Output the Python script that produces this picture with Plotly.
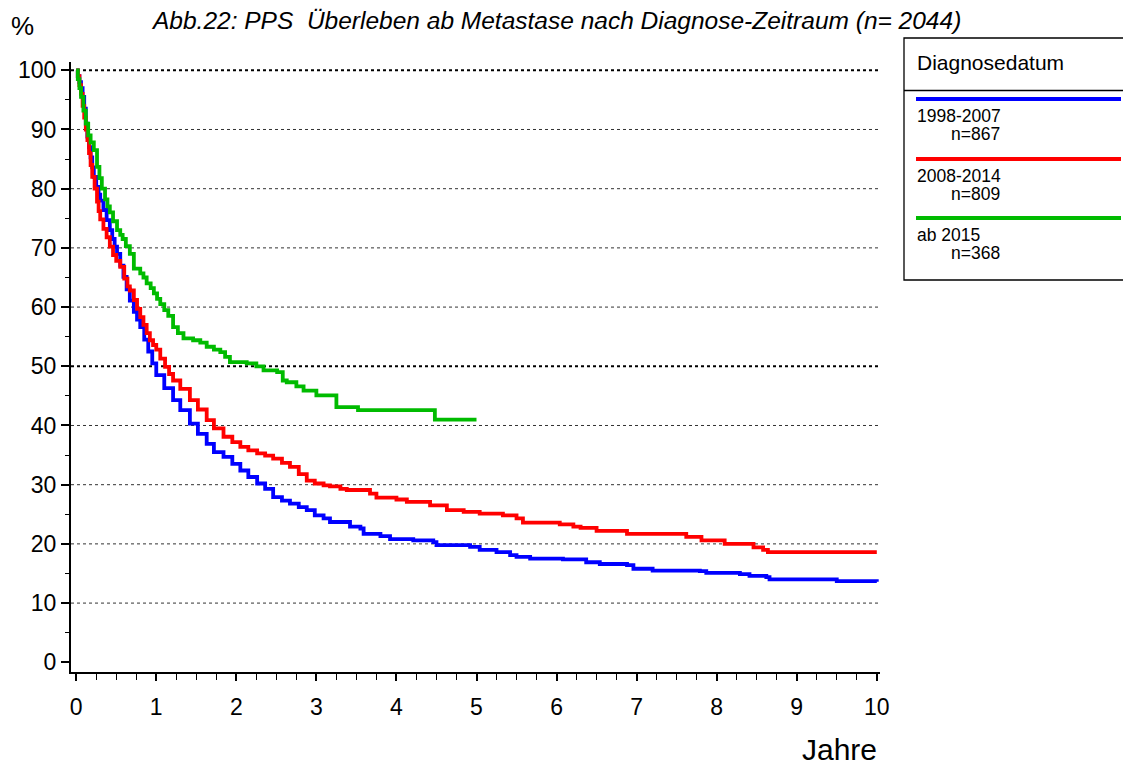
import plotly.graph_objects as go

# ---------------- data ----------------
series_names = ["1998-2007", "2008-2014", "ab 2015"]
series_n = ["n=867", "n=809", "n=368"]
series_colors = ["#0000ff", "#ff0000", "#00bb00"]

t_1998 = [0, 0.02, 0.04, 0.06, 0.08, 0.1, 0.12, 0.14, 0.16, 0.18, 0.2, 0.22, 0.25, 0.28,
          0.3, 0.34, 0.38, 0.42, 0.45, 0.48, 0.51, 0.55, 0.59, 0.63, 0.67, 0.72, 0.76,
          0.8, 0.85, 0.9, 0.95, 1.0,
          1.1, 1.21, 1.3, 1.42, 1.52, 1.63, 1.72, 1.84, 1.95, 2.05, 2.15, 2.26, 2.36,
          2.46, 2.57, 2.67, 2.78, 2.88, 2.98, 3.09, 3.17, 3.42, 3.55, 3.59, 3.8, 3.92,
          4.21, 4.46, 4.5, 4.92, 5.04, 5.25, 5.42, 5.5, 5.67, 6.08, 6.37, 6.54, 6.88,
          6.96, 7.2, 7.79, 7.87, 8.29, 8.41, 8.62, 8.66, 9.5, 10.0]
s_1998 = [100, 99, 98, 97, 95.5, 93.5, 91, 88.8, 87, 85.3, 83.6, 82, 80.3, 79,
          78, 76.4, 74.7, 73, 71.5, 70.2, 69, 67, 65.1, 63, 61.1, 59.2, 57.9,
          56.6, 54.5, 52.5, 50.5, 48.5,
          46.3, 44.3, 42.6, 40.3, 38.6, 36.9, 35.5, 34.7, 33.5, 32.4, 31.3, 30.2, 29.3,
          27.9, 27.3, 26.8, 26.2, 25.7, 24.8, 24.3, 23.7, 22.9, 22.6, 21.7, 21.3, 20.8,
          20.6, 20.3, 19.8, 19.5, 19.0, 18.6, 18.1, 17.8, 17.5, 17.4, 16.9, 16.6, 16.4,
          15.8, 15.5, 15.4, 15.1, 14.9, 14.6, 14.4, 14.0, 13.7, 13.6]

t_2008 = [0, 0.02, 0.04, 0.06, 0.08, 0.1, 0.12, 0.14, 0.16, 0.18, 0.2, 0.23, 0.26, 0.28,
          0.3, 0.34, 0.38, 0.42, 0.46, 0.5, 0.55, 0.6, 0.64, 0.67, 0.72, 0.76, 0.8, 0.84,
          0.88, 0.92, 0.96, 1.0, 1.05, 1.11, 1.16, 1.21,
          1.3, 1.42, 1.52, 1.63, 1.72, 1.84, 1.95, 2.05, 2.15, 2.26, 2.36, 2.46, 2.57,
          2.67, 2.78, 2.88, 2.98, 3.09, 3.17, 3.3, 3.38, 3.67, 3.75, 4.0, 4.13, 4.42,
          4.63, 4.84, 5.04, 5.33, 5.5, 5.58, 6.04, 6.21, 6.3, 6.5, 6.88, 7.62, 7.81,
          8.1, 8.46, 8.58, 8.64, 10.0]
s_2008 = [100, 99, 97.5, 96, 94, 92, 90, 88.2, 86, 84, 82, 80, 77.8, 76.2,
          74.8, 73.2, 71.8, 70.2, 68.8, 67.8, 66.8, 64.8, 63.5, 62.8, 61.2, 59.7, 58.3, 57,
          55.6, 54.4, 53.6, 52.8, 51.3, 49.9, 48.7, 47.6,
          46.2, 44.3, 42.7, 40.9, 39.5, 38.1, 37.2, 36.4, 35.8, 35.3, 34.9, 34.4, 33.7,
          33.0, 31.8, 30.7, 30.2, 29.9, 29.7, 29.3, 29.1, 28.5, 27.8, 27.5, 27.1, 26.5,
          25.7, 25.4, 25.1, 24.8, 24.3, 23.6, 23.3, 22.9, 22.7, 22.2, 21.7, 21.2, 20.6,
          20.0, 19.4, 19.0, 18.6, 18.6]

t_2015 = [0, 0.02, 0.04, 0.06, 0.09, 0.12, 0.15, 0.18, 0.22, 0.26, 0.29, 0.32, 0.36,
          0.39, 0.42, 0.46, 0.51, 0.55, 0.58, 0.62, 0.67, 0.72,
          0.8, 0.84, 0.88, 0.93, 0.97, 1.01, 1.05, 1.1, 1.15, 1.21, 1.27, 1.34, 1.46,
          1.55, 1.63, 1.72, 1.8, 1.86, 1.92,
          2.13, 2.25, 2.34, 2.51, 2.58, 2.63, 2.75, 2.84, 3.0, 3.25, 3.52, 4.48, 5.0]
s_2015 = [100, 98.5, 97, 95.5, 93.2, 91, 89, 87.8, 86.5, 83.7, 81.8, 80, 78.2,
          77, 76, 74.5, 73.0, 72.2, 71.5, 70.3, 69.0, 66.5,
          65.7, 65, 64, 63.2, 62.3, 61.4, 60.5, 59.5, 58.5, 56.6, 55.6, 54.7, 54.4,
          54.0, 53.3, 52.8, 52.4, 51.6, 50.7,
          50.5, 50.0, 49.3, 49.0, 47.6, 47.3, 46.6, 45.9, 45.1, 43.1, 42.6, 41.0, 41.0]

series_t = [t_1998, t_2008, t_2015]
series_s = [s_1998, s_2008, s_2015]

x_ticks = list(range(0, 11))
y_ticks = list(range(0, 101, 10))
grid_fine = [10, 20, 30, 40, 60, 70, 80, 90]
grid_bold = [50, 100]

title_text = "Abb.22: PPS  Überleben ab Metastase nach Diagnose-Zeitraum (n= 2044)"
legend_title = "Diagnosedatum"

# ---------------- layout geometry (page pixels, page body margin 8px) ----------------
OFF = 8
W, H = 1131 - OFF, 767 - OFF
L, R, T, B = 71, 880, 62, 672  # page pixel positions of plot area edges
FONT = "Liberation Sans, Arial, sans-serif"


def px(xp):
    return (xp - L) / (R - L)


def py(yp):
    return (B - yp) / (B - T)


fig = go.Figure()

for name, tt, ss, col in zip(series_names, series_t, series_s, series_colors):
    fig.add_trace(go.Scatter(x=tt, y=ss, mode="lines", name=name,
                             line=dict(color=col, width=3.8, shape="hv"),
                             showlegend=False))

shapes = []
for g in grid_fine:
    shapes.append(dict(type="line", xref="paper", yref="y", x0=0, x1=1, y0=g, y1=g,
                       line=dict(color="#333333", width=1, dash="dot"), layer="below"))
for g in grid_bold:
    shapes.append(dict(type="line", xref="paper", yref="y", x0=0, x1=1, y0=g, y1=g,
                       line=dict(color="#000000", width=2, dash="dot"), layer="below"))

# legend box
shapes.append(dict(type="rect", xref="paper", yref="paper", x0=px(904), x1=px(1140),
                   y0=py(280), y1=py(38), line=dict(color="black", width=1.3)))
shapes.append(dict(type="line", xref="paper", yref="paper", x0=px(904), x1=px(1140),
                   y0=py(90.5), y1=py(90.5), line=dict(color="black", width=1.3)))

annotations = []
annotations.append(dict(text=legend_title, xref="paper", yref="paper", x=px(915), y=py(62),
                        xanchor="left", yanchor="middle", showarrow=False,
                        font=dict(family=FONT, size=21, color="black")))
line_y = [99, 159, 218]
for i, (name, n, col) in enumerate(zip(series_names, series_n, series_colors)):
    ly = line_y[i]
    shapes.append(dict(type="line", xref="paper", yref="paper", x0=px(916), x1=px(1121),
                       y0=py(ly), y1=py(ly), line=dict(color=col, width=4)))
    annotations.append(dict(text=name, xref="paper", yref="paper", x=px(915), y=py(ly + 17),
                            xanchor="left", yanchor="middle", showarrow=False,
                            font=dict(family=FONT, size=17.5, color="black")))
    annotations.append(dict(text=n, xref="paper", yref="paper", x=px(949), y=py(ly + 35),
                            xanchor="left", yanchor="middle", showarrow=False,
                            font=dict(family=FONT, size=17.5, color="black")))

annotations.append(dict(text="<i>" + title_text + "</i>", xref="paper", yref="paper",
                        x=px(556), y=py(21), xanchor="center", yanchor="middle",
                        showarrow=False, font=dict(family=FONT, size=24.5, color="black")))
annotations.append(dict(text="%", xref="paper", yref="paper", x=px(9), y=py(26),
                        xanchor="left", yanchor="middle", showarrow=False,
                        font=dict(family=FONT, size=26, color="black")))
annotations.append(dict(text="Jahre", xref="paper", yref="paper", x=px(879), y=py(749),
                        xanchor="right", yanchor="middle", showarrow=False,
                        font=dict(family=FONT, size=30, color="black")))

fig.update_layout(
    template="none",
    width=W, height=H,
    margin=dict(l=L - OFF, r=(1131 - R), t=T - OFF, b=(767 - B), pad=0, autoexpand=False),
    plot_bgcolor="white", paper_bgcolor="white",
    shapes=shapes, annotations=annotations,
    showlegend=False,
    font=dict(family=FONT, color="black"),
)

fig.update_xaxes(
    automargin=False,
    range=[-0.065, 10.04], tickvals=x_ticks, ticktext=[str(v) for v in x_ticks],
    showgrid=False, zeroline=False, showline=True, linecolor="black", linewidth=2,
    ticks="outside", ticklen=7, tickwidth=1.5, tickcolor="black",
    minor=dict(dtick=0.25, tick0=0, ticks="outside", ticklen=6, tickwidth=1.2,
               tickcolor="black", showgrid=False),
    tickfont=dict(family=FONT, size=23, color="black"), ticklabelstandoff=6,
)
fig.update_yaxes(
    automargin=False,
    range=[-1.64, 101.4], tickvals=y_ticks, ticktext=[str(v) for v in y_ticks],
    showgrid=False, zeroline=False, showline=True, linecolor="black", linewidth=2,
    ticks="outside", ticklen=8, tickwidth=1.5, tickcolor="black",
    minor=dict(dtick=5, tick0=0, ticks="outside", ticklen=4, tickwidth=1.2,
               tickcolor="black", showgrid=False),
    tickfont=dict(family=FONT, size=23, color="black"), ticklabelstandoff=0,
)

fig.write_html("out.html")
